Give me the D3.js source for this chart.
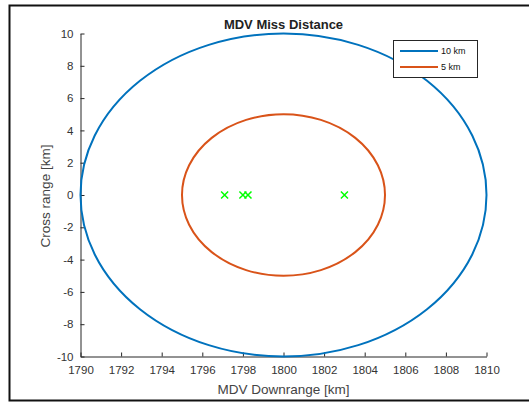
<!DOCTYPE html>
<html>
<head>
<meta charset="UTF-8" />
<script src="https://cdn.jsdelivr.net/npm/d3@7"></script>
<title>MDV Miss Distance</title>
<style>
    body { margin: 0; background: white; }
    svg { display: block; font-family: "Liberation Sans", Arial, sans-serif; }
</style>
</head>
<body>
<div id="chart"></div>
<script>
// circle radii around the nominal point
const center = [1800, 0];
const radii = [10, 5];
const radiusNames = ["10 km", "5 km"];
const radiusColors = ["#0072BD", "#D95319"];
// observed miss points
const missDown = [1797.1, 1798.0, 1798.25, 1803.0];
const missCross = [0, 0, 0, 0];
const xTicks = [1790, 1792, 1794, 1796, 1798, 1800, 1802, 1804, 1806, 1808, 1810];
const yTicks = [-10, -8, -6, -4, -2, 0, 2, 4, 6, 8, 10];

const w = 529, h = 403;
const svg = d3.select("#chart").append("svg")
    .attr("width", w).attr("height", h);

// figure frame
svg.append("rect")
    .attr("x", 9.5).attr("y", 5.5)
    .attr("width", 540).attr("height", 395)
    .attr("fill", "white").attr("stroke", "#111").attr("stroke-width", 2);

const x = d3.scaleLinear().domain([1790, 1810]).range([80.5, 486.5]);
const y = d3.scaleLinear().domain([-10, 10]).range([356.5, 33.5]);

const xAxis = d3.axisBottom(x).tickValues(xTicks).tickFormat(d => String(d))
    .tickSizeInner(-4).tickSizeOuter(0).tickPadding(9);
const yAxis = d3.axisLeft(y).tickValues(yTicks).tickFormat(d => String(d))
    .tickSizeInner(-4).tickSizeOuter(0).tickPadding(7);

const gx = svg.append("g").attr("transform", "translate(0," + y(-10) + ")").call(xAxis);
const gy = svg.append("g").attr("transform", "translate(" + x(1790) + ",0)").call(yAxis);
[gx, gy].forEach(g => {
    g.selectAll("path, line").attr("stroke", "#262626");
    g.selectAll("text").attr("fill", "#333").style("font-size", "11.5px").attr("font-family", null);
});

// range circles
svg.selectAll("ellipse.ring").data(radii).enter().append("ellipse")
    .attr("class", "ring")
    .attr("cx", x(center[0])).attr("cy", y(center[1]))
    .attr("rx", d => x(center[0] + d) - x(center[0]))
    .attr("ry", d => y(center[1] - d) - y(center[1]))
    .attr("fill", "none")
    .attr("stroke", (d, i) => radiusColors[i])
    .attr("stroke-width", 2);

// miss points
svg.selectAll("path.miss").data(missDown).enter().append("path")
    .attr("class", "miss")
    .attr("transform", (d, i) => "translate(" + x(d) + "," + y(missCross[i]) + ")")
    .attr("d", d3.symbol(d3.symbolTimes).size(34))
    .attr("fill", "none").attr("stroke", "#00FF00").attr("stroke-width", 1.5);

// title and labels
svg.append("text").attr("x", 283.5).attr("y", 29)
    .attr("text-anchor", "middle").attr("font-weight", "bold")
    .attr("font-size", 13).attr("fill", "#222")
    .text("MDV Miss Distance");
svg.append("text").attr("x", 283.5).attr("y", 394)
    .attr("text-anchor", "middle").attr("font-size", 13.5).attr("fill", "#444")
    .text("MDV Downrange [km]");
svg.append("text").attr("transform", "translate(50,196) rotate(-90)")
    .attr("text-anchor", "middle").attr("font-size", 13.5).attr("fill", "#444")
    .text("Cross range [km]");

// legend
const legend = svg.append("g").attr("transform", "translate(393,40)");
legend.append("rect").attr("x", 0.5).attr("y", 0.5).attr("width", 84).attr("height", 37)
    .attr("fill", "white").attr("stroke", "#262626");
const items = legend.selectAll("g.item").data(radiusNames).enter().append("g")
    .attr("class", "item")
    .attr("transform", (d, i) => "translate(0," + (11 + i * 16) + ")");
items.append("line").attr("x1", 7).attr("x2", 45)
    .attr("stroke", (d, i) => radiusColors[i]).attr("stroke-width", 2);
items.append("text").attr("x", 48).attr("y", 3)
    .attr("font-size", 9).attr("fill", "#111")
    .text(d => d);
</script>
</body>
</html>
